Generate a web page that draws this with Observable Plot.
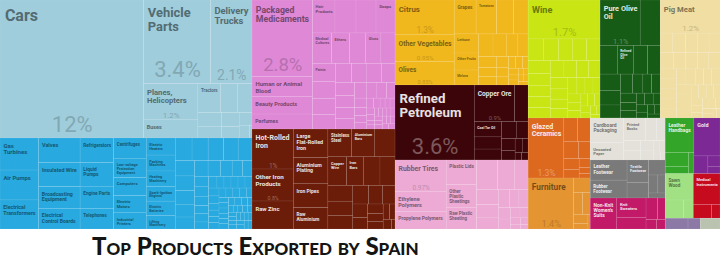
<!DOCTYPE html>
<html><head><meta charset="utf-8">
<script src="https://cdn.jsdelivr.net/npm/d3@7"></script>
<script src="https://cdn.jsdelivr.net/npm/@observablehq/plot@0.6"></script>
<style>
html,body{margin:0;padding:0;background:#fff;width:720px;height:263px;overflow:hidden}
#chart{position:absolute;left:0;top:0;width:720px;height:229px}
#title{position:absolute;left:0;top:229px;width:720px;height:34px}
#title span{position:absolute;left:92px;top:2px;font-family:Lato,"Open Sans",sans-serif;font-weight:900;font-variant:small-caps;font-size:24px;color:#141414;white-space:nowrap;line-height:30px}
</style></head><body>
<div id="chart"></div>
<div id="title"><span>Top Products Exported by Spain</span></div>
<script>
// ---- data: share of total exports (%) ----
const sectorNames = ["Transportation","Machines","Chemical Products","Metals","Vegetable Products","Mineral Products","Plastics and Rubbers","Foodstuffs","Animal and Vegetable Bi-Products","Animal Products","Stone and Glass","Miscellaneous","Paper Goods","Footwear and Headwear","Textiles","Animal Hides","Precious Metals","Wood Products","Instruments","Arms","Arts and Antiques"];
const sectorColors = ["#9fcddb","#28a9df","#df88d6","#6b1d0a","#f1b81e","#3c050a","#ecaad4","#c9e614","#165b16","#f0dea2","#dd691f","#e49532","#e4e1da","#7a7a7a","#c21a69","#33a529","#7c2995","#a1e083","#c70b1f","#8c79a5","#b9c3af"];

const transportation = [["Cars",12.0],["Vehicle Parts",3.4],["Delivery Trucks",2.1],["Planes, Helicopters",1.2],["Buses",0.6],["Tractors",0.4],["Motorcycles",0.3],["Trailers",0.25],["Boats",0.2]];
const transportationSmall = [0.17,0.15,0.12,0.1,0.08,0.02];
const machines = [["Gas Turbines",0.75],["Air Pumps",0.70],["Electrical Transformers",0.68],["Valves",0.62],["Insulated Wire",0.60],["Broadcasting Equipment",0.55],["Electrical Control Boards",0.52],["Refrigerators",0.50],["Liquid Pumps",0.48],["Engine Parts",0.45],["Telephones",0.42],["Centrifuges",0.40],["Low-voltage Protection Equipment",0.38],["Computers",0.36],["Electric Motors",0.34],["Industrial Printers",0.32],["Electric Heaters",0.30],["Packing Machines",0.28],["Heating Machinery",0.27],["Spark-Ignition Engines",0.26],["Electric Batteries",0.25],["Lifting Machinery",0.24],["Air Conditioners",0.23],["Transmissions",0.22],["Ball Bearings",0.21],["Measuring Instruments",0.20]];
const machinesSmall = [0.19,0.18,0.17,0.16,0.15,0.14,0.13,0.12,0.11,0.10,0.09,0.09,0.08,0.08,0.07,0.07,0.06,0.06,0.05,0.05,0.05,0.05,0.05,0.05,0.05,0.04,0.04,0.04,0.04,0.04,0.04,0.04,0.04,0.03,0.03,0.03,0.03,0.03,0.03,0.03,0.03,0.03,0.03,0.02,0.02,0.02,0.02,0.02,0.02,0.02,0.02,0.02,0.02,0.02,0.02,0.02,0.02,0.02,0.02,0.02,0.02];
const chemicals = [["Packaged Medicaments",2.8],["Human or Animal Blood",0.73],["Beauty Products",0.65],["Perfumes",0.55],["Hair Products",0.45],["Nitrogen Compounds",0.42],["Insecticides",0.40],["Soaps",0.38],["Medical Cultures",0.35],["Ethers",0.33],["Pigments",0.30],["Glues",0.28],["Fertilizers",0.26],["Paints",0.25]];
const chemicalsSmall = [0.24,0.22,0.20,0.19,0.18,0.17,0.16,0.15,0.14,0.13,0.12,0.11,0.10,0.09,0.08,0.07,0.06,0.05,0.05,0.04,0.04,0.03,0.03,0.03,0.03,0.03,0.02,0.02,0.02,0.02,0.02,0.02,0.02,0.02,0.02,0.02,0.02,0.02,0.02,0.02,0.02];
const metals = [["Hot-Rolled Iron",1.0],["Other Iron Products",0.8],["Raw Zinc",0.7],["Large Flat-Rolled Iron",0.6],["Aluminium Plating",0.55],["Iron Pipes",0.5],["Raw Aluminium",0.45],["Stainless Steel",0.4],["Aluminium Bars",0.38],["Iron Structures",0.35],["Copper Wire",0.32],["Iron Bars",0.3]];
const metalsSmall = [0.28,0.26,0.24,0.22,0.2,0.18,0.16,0.14,0.12,0.1,0.09,0.08,0.07,0.06,0.05,0.05,0.02];
const vegetables = [["Citrus",1.25],["Other Vegetables",0.95],["Olives",0.85],["Grapes",0.45],["Tomatoes",0.42],["Almonds",0.35],["Pepper",0.3],["Lettuce",0.28],["Other Fruits",0.25],["Melons",0.22],["Cabbages",0.2]];
const vegetablesSmall = [0.18,0.16,0.14,0.12,0.1,0.09,0.08,0.07,0.06,0.05,0.05,0.04,0.04,0.03,0.03,0.02,0.02,0.02,0.02,0.02];
const minerals = [["Refined Petroleum",3.6],["Copper Ore",0.9],["Petroleum Gas",0.3],["Coal Tar Oil",0.25],["Cement",0.2],["Zinc Ore",0.18],["Salt",0.15]];
const mineralsSmall = [0.12,0.1,0.08,0.06,0.05,0.03,0.03];
const plastics = [["Rubber Tires",0.97],["Ethylene Polymers",0.62],["Propylene Polymers",0.55],["Plastic Lids",0.45],["Other Plastic Sheetings",0.42],["Raw Plastic Sheeting",0.40],["Polyacetals",0.38],["Vinyl Chloride Polymers",0.3],["Plastic Pipes",0.25],["Rubber Belts",0.2]];
const plasticsSmall = [0.18,0.15,0.12,0.1,0.1,0.08,0.07,0.06,0.05,0.04,0.03,0.03,0.02];
const foodstuffs = [["Wine",1.7],["Processed Fish",0.2],["Animal Food",0.2],["Other Edible Preparations",0.19],["Processed Tomatoes",0.18],["Hard Liquor",0.18],["Sauces and Seasonings",0.17],["Fruit Juice",0.16],["Chocolate",0.15],["Baked Goods",0.15],["Processed Fruits",0.14],["Beer",0.14]];
const foodstuffsSmall = [0.13,0.12,0.12,0.12,0.11,0.1,0.1,0.09,0.08,0.08,0.07,0.07,0.06,0.06,0.05,0.05,0.04,0.04,0.03,0.03,0.02,0.02];
const oils = [["Pure Olive Oil",1.1],["Other Vegetable Oils",0.55],["Margarine",0.3],["Refined Olive Oil",0.28],["Sunflower Oil",0.25],["Animal Fats",0.22],["Fatty Acids",0.2]];
const oilsSmall = [0.18,0.16,0.14,0.12,0.1,0.1,0.09,0.08,0.07,0.06,0.06,0.05,0.05,0.04,0.04,0.03,0.03];
const animal = [["Pig Meat",1.2],["Frozen Fish",0.15],["Molluscs",0.15],["Frozen Bovine Meat",0.14],["Cheese",0.14],["Fish Fillets",0.13],["Crustaceans",0.13],["Poultry Meat",0.12],["Eggs",0.12]];
const animalSmall = [0.11,0.11,0.1,0.1,0.1,0.1,0.09,0.09,0.09,0.08,0.08,0.08,0.08,0.07,0.07,0.07,0.06,0.06,0.06,0.05,0.05,0.05,0.04,0.04,0.04,0.03,0.03,0.03,0.02,0.02];
const stone = [["Glazed Ceramics",1.3],["Marble",0.2],["Glass Bottles",0.18],["Stone Tiles",0.15]];
const stoneSmall = [0.12,0.1,0.08,0.06,0.04,0.03];
const misc = [["Furniture",1.4],["Toys",0.15],["Lighting",0.12]];
const miscSmall = [0.1,0.08,0.05,0.02];
const paper = [["Cardboard Packaging",0.5],["Uncoated Paper",0.35],["Printed Books",0.3],["Labels",0.15]];
const paperSmall = [0.12,0.1,0.1,0.08,0.07,0.05,0.04,0.03,0.02];
const footwear = [["Leather Footwear",0.45],["Rubber Footwear",0.4],["Textile Footwear",0.3],["Hats",0.2]];
const footwearSmall = [0.15,0.1,0.08,0.05];
const textiles = [["Non-Knit Women's Suits",0.5],["Knit Sweaters",0.35],["Non-Knit Men's Suits",0.2]];
const textilesSmall = [0.15,0.1,0.06,0.05];
const hides = [["Leather Handbags",0.6],["Tanned Hides",0.2]];
const hidesSmall = [0.1,0.07];
const precious = [["Gold",0.6],["Jewellery",0.15]];
const preciousSmall = [0.08,0.05];
const wood = [["Sawn Wood",0.45],["Cork",0.2]];
const woodSmall = [0.11];
const instruments = [["Medical Instruments",0.5],["Orthopedic Appliances",0.15]];
const instrumentsSmall = [0.07];
const arms = [["Arms",0.15]];
const armsSmall = [0.08];
const arts = [["Artwork",0.13]];
const artsSmall = [];

const sectorMain = [transportation,machines,chemicals,metals,vegetables,minerals,plastics,foodstuffs,oils,animal,stone,misc,paper,footwear,textiles,hides,precious,wood,instruments,arms,arts];
const sectorSmall = [transportationSmall,machinesSmall,chemicalsSmall,metalsSmall,vegetablesSmall,mineralsSmall,plasticsSmall,foodstuffsSmall,oilsSmall,animalSmall,stoneSmall,miscSmall,paperSmall,footwearSmall,textilesSmall,hidesSmall,preciousSmall,woodSmall,instrumentsSmall,armsSmall,artsSmall];

// ---- layout ----
const W = 720, H = 229;
const tree = {name: "Spain", children: sectorNames.map((n, i) => ({
  name: n, color: sectorColors[i],
  children: sectorMain[i].map(([name, value]) => ({name, value}))
    .concat(sectorSmall[i].map(value => ({name: "", value})))
}))};
const root = d3.hierarchy(tree).sum(d => d.value || 0).sort((a, b) => b.value - a.value);
d3.treemap().tile(d3.treemapSquarify).size([W, H]).round(false)(root);
const total = root.value;

function lum(c) {
  const r = d3.rgb(c);
  const f = v => { v /= 255; return v <= 0.03928 ? v / 12.92 : Math.pow((v + 0.055) / 1.055, 2.4); };
  return 0.2126 * f(r.r) + 0.7152 * f(r.g) + 0.0722 * f(r.b);
}
const ctx = document.createElement("canvas").getContext("2d");
function tw(s, fs, wt) { ctx.font = `${wt} ${fs}px Roboto`; return ctx.measureText(s).width; }
const fmt = d3.format(".2~r");

function fitTitle(name, w, h) {
  const words = name.split(/\s+/);
  for (let fs = Math.min(16, Math.sqrt(w * h) / 5.8); fs >= 3.2; fs -= 0.25) {
    const pad = 2 + 0.15 * fs, maxW = w - 2 * pad;
    if (words.some(wd => tw(wd, fs, 700) > maxW)) continue;
    const lines = []; let cur = "";
    for (const wd of words) {
      const t = cur ? cur + " " + wd : wd;
      if (tw(t, fs, 700) <= maxW) cur = t; else { lines.push(cur); cur = wd; }
    }
    lines.push(cur);
    const top = 3 + 0.3 * fs;
    if (top + lines.length * fs * 1.08 <= h - 2) return {fs, lines, pad, top};
  }
  return null;
}

const cells = [], titles = [], pcts = [];
for (const leaf of root.leaves()) {
  const fill = leaf.parent.data.color;
  const {x0, x1, y0, y1} = leaf;
  const w = x1 - x0, h = y1 - y0;
  cells.push({x0, x1, y0, y1, fill});
  if (!leaf.data.name) continue;
  const dark = lum(fill) < 0.3;
  const tColor = dark ? d3.interpolateRgb(fill, "#fff")(0.88) : d3.interpolateRgb(fill, "#000")(0.48);
  const pColor = dark ? d3.interpolateRgb(fill, "#fff")(0.33) : d3.interpolateRgb(fill, "#000")(0.18);
  const t = fitTitle(leaf.data.name, w, h);
  if (!t) continue;
  titles.push({x: x0 + t.pad, y: y0 + t.top, text: t.lines.join("\n"), fs: t.fs, color: tColor});
  const str = fmt(leaf.value / total * 100) + "%";
  let pfs = Math.min(22, w * h / 250);
  while (pfs >= 5 && tw(str, pfs, 400) > w - 6) pfs -= 0.5;
  const base = y1 - Math.max(2, 0.3 * pfs);
  const tBottom = y0 + t.top + t.lines.length * t.fs * 1.08;
  if (pfs >= 5 && base - pfs * 0.75 > tBottom + 2) pcts.push({x: (x0 + x1) / 2, y: base, text: str, fs: pfs, color: pColor});
}

const chart = Plot.plot({
  width: W, height: H, margin: 0,
  x: {domain: [0, W], range: [0, W], axis: null},
  y: {domain: [0, H], range: [0, H], axis: null},
  color: {type: "identity"},
  style: {background: "transparent", overflow: "hidden"},
  marks: [
    Plot.rect(cells, {x1: "x0", x2: "x1", y1: "y0", y2: "y1", fill: "fill", stroke: "#ffffff", strokeOpacity: 0.14, strokeWidth: 0.5}),
    Plot.text(titles, {x: "x", y: "y", text: "text", fontSize: d => d.fs, fill: "color", textAnchor: "start", lineAnchor: "top", lineHeight: 1.08, fontWeight: 700, fontFamily: "Roboto"}),
    Plot.text(pcts, {x: "x", y: "y", text: "text", fontSize: d => d.fs, fill: "color", textAnchor: "middle", lineAnchor: "bottom", fontWeight: 400, fontFamily: "Roboto"})
  ]
});
document.getElementById("chart").appendChild(chart);
</script>
</body></html>
